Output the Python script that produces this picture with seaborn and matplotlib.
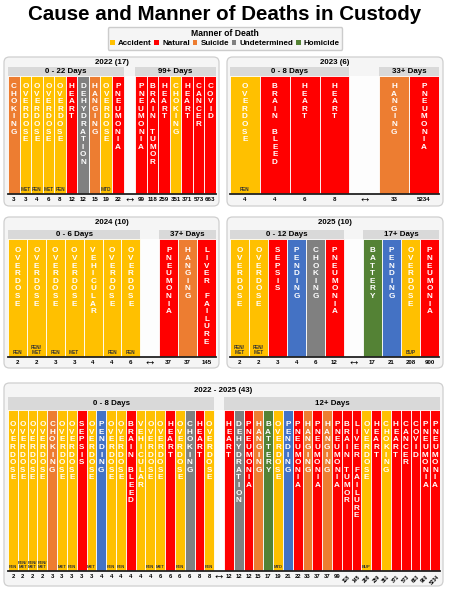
import pandas as pd
import matplotlib
matplotlib.use('Agg')
import matplotlib.pyplot as plt
import matplotlib.transforms as mtransforms
from matplotlib.patches import FancyBboxPatch, Rectangle, Patch
from matplotlib.lines import Line2D
import seaborn as sns

sns.set_style('white')
plt.rcParams['font.family'] = ['Liberation Sans', 'DejaVu Sans']
plt.rcParams['text.color'] = 'black'
plt.rcParams['xtick.color'] = 'black'

# colours for manner of death
palette = {'Accident': '#FFC000', 'Natural': '#FF0000', 'Suicide': '#ED7D31',
           'Undetermined': '#808080', 'Homicide': '#548235', 'Pending': '#4472C4'}
legend_items = ['Accident', 'Natural', 'Suicide', 'Undetermined', 'Homicide']

# 2022
y22_days = [3, 3, 4, 6, 8, 12, 12, 15, 19, 22, 99, 118, 259, 351, 371, 573, 663]
y22_cause = ['CHOKING', 'OVERDOSE', 'OVERDOSE', 'OVERDOSE', 'OVERDOSE', 'HEART', 'DEHYDRATION',
             'HANGING', 'OVERDOSE', 'PNEUMONIA', 'PNEUMONIA', 'BRAIN TUMOR', 'HEART', 'CHOKING',
             'HEART', 'CANCER', 'COVID']
y22_manner = ['Suicide', 'Accident', 'Accident', 'Accident', 'Accident', 'Natural', 'Undetermined',
              'Suicide', 'Accident', 'Natural', 'Natural', 'Natural', 'Natural', 'Accident',
              'Natural', 'Natural', 'Natural']
y22_drug = ['', 'MET', 'FEN', 'MET', 'FEN', '', '', '', 'MTD', '', '', '', '', '', '', '', '']
y22_groups = ['0 - 22 Days', '99+ Days']

# 2023
y23_days = [4, 4, 6, 8, 33, 5234]
y23_cause = ['OVERDOSE', 'BRAIN BLEED', 'HEART', 'HEART', 'HANGING', 'PNEUMONIA']
y23_manner = ['Accident', 'Natural', 'Natural', 'Natural', 'Suicide', 'Natural']
y23_drug = ['FEN', '', '', '', '', '']
y23_groups = ['0 - 8 Days', '33+ Days']

# 2024
y24_days = [2, 2, 3, 3, 4, 4, 6, 37, 37, 145]
y24_cause = ['OVERDOSE', 'OVERDOSE', 'OVERDOSE', 'OVERDOSE', 'VEHICULAR', 'OVERDOSE', 'OVERDOSE',
             'PNEUMONIA', 'HANGING', 'LIVER FAILURE']
y24_manner = ['Accident', 'Accident', 'Accident', 'Accident', 'Accident', 'Accident', 'Accident',
              'Natural', 'Suicide', 'Natural']
y24_drug = ['FEN', 'FEN/\nMET', 'FEN', 'MET', '', 'FEN', 'FEN', '', '', '']
y24_groups = ['0 - 6 Days', '37+ Days']

# 2025
y25_days = [2, 2, 3, 4, 6, 12, 17, 21, 208, 900]
y25_cause = ['OVERDOSE', 'OVERDOSE', 'SEPSIS', 'PENDING', 'CHOKING', 'PNEUMONIA', 'BATTERY',
             'PENDING', 'OVERDOSE', 'PNEUMONIA']
y25_manner = ['Accident', 'Accident', 'Natural', 'Pending', 'Undetermined', 'Natural', 'Homicide',
              'Pending', 'Accident', 'Natural']
y25_drug = ['FEN/\nMET', 'FEN/\nMET', '', '', '', '', '', '', 'BUP', '']
y25_groups = ['0 - 12 Days', '17+ Days']

# 2022 - 2025
all_days = [2, 2, 2, 2, 3, 3, 3, 3, 3, 4, 4, 4, 4, 4, 4, 6, 6, 6, 6, 8, 8,
            12, 12, 12, 15, 17, 19, 21, 22, 33, 37, 37, 99, 118, 145, 208, 259, 351, 371, 573,
            663, 900, 5234]
all_cause = ['OVERDOSE', 'OVERDOSE', 'OVERDOSE', 'OVERDOSE', 'CHOKING', 'OVERDOSE', 'OVERDOSE',
             'SEPSIS', 'OVERDOSE', 'PENDING', 'OVERDOSE', 'OVERDOSE', 'BRAIN BLEED', 'VEHICULAR',
             'OVERDOSE', 'OVERDOSE', 'HEART', 'OVERDOSE', 'CHOKING', 'HEART', 'OVERDOSE',
             'HEART', 'DEHYDRATION', 'PNEUMONIA', 'HANGING', 'BATTERY', 'OVERDOSE', 'PENDING',
             'PNEUMONIA', 'HANGING', 'PNEUMONIA', 'HANGING', 'PNEUMONIA', 'BRAIN TUMOR',
             'LIVER FAILURE', 'OVERDOSE', 'HEART', 'CHOKING', 'HEART', 'CANCER', 'COVID',
             'PNEUMONIA', 'PNEUMONIA']
all_manner = ['Accident', 'Accident', 'Accident', 'Accident', 'Suicide', 'Accident', 'Accident',
              'Natural', 'Accident', 'Pending', 'Accident', 'Accident', 'Natural', 'Accident',
              'Accident', 'Accident', 'Natural', 'Accident', 'Undetermined', 'Natural', 'Accident',
              'Natural', 'Undetermined', 'Natural', 'Suicide', 'Homicide', 'Accident', 'Pending',
              'Natural', 'Suicide', 'Natural', 'Suicide', 'Natural', 'Natural', 'Natural',
              'Accident', 'Natural', 'Accident', 'Natural', 'Natural', 'Natural', 'Natural',
              'Natural']
all_drug = ['FEN', 'FEN/\nMET', 'FEN/\nMET', 'FEN/\nMET', '', 'MET', 'FEN', '', 'MET', '', 'FEN',
            'FEN', '', '', 'FEN', 'MET', '', 'FEN', '', '', 'FEN',
            '', '', '', '', '', 'MTD', '', '', '', '', '', '', '', '', 'BUP', '', '', '', '', '',
            '', '']
all_groups = ['0 - 8 Days', '12+ Days']

W, H = 450, 600
fig = plt.figure(figsize=(W / 100, H / 100), dpi=100)


def fx(x):
    return x / W


def fy(y):
    return 1 - y / H


def draw_panel(box, title, title_y, bars, head_top, days, cause, manner, drug, groups, split,
               tick_fs, drug_fs, word_off, rotate=False):
    bx0, by0, bx1, by1 = box
    fig.patches.append(FancyBboxPatch((fx(bx0), fy(by1)), fx(bx1) - fx(bx0), fy(by0) - fy(by1),
                                      boxstyle='round,pad=0,rounding_size=0.012',
                                      mutation_aspect=W / H,
                                      transform=fig.transFigure, facecolor='#f5f5f5',
                                      edgecolor='#cfcfcf', linewidth=0.9, zorder=-5))
    fig.text(fx((bx0 + bx1) / 2), fy(title_y), title, ha='center', va='center',
             fontsize=5.7, fontweight='bold')

    x0, y0, x1, y1 = bars
    ax = fig.add_axes([fx(x0), fy(y1), fx(x1) - fx(x0), fy(y0) - fy(y1)])
    n = len(days) + 1
    slots = [i if i < split else i + 1 for i in range(len(days))]
    df = pd.DataFrame({'slot': [str(s) for s in slots], 'deaths': [1] * len(days),
                       'manner': manner})
    sns.barplot(data=df, x='slot', y='deaths', hue='manner', palette=palette,
                order=[str(i) for i in range(n)], dodge=False, saturation=1, width=1,
                edgecolor='white', linewidth=0.6, legend=False, ax=ax)
    ax.set_xlim(-0.5, n - 0.5)
    ax.set_ylim(0, 1)
    ax.set_facecolor('#fdfdfd')
    for s in ['top', 'left', 'right']:
        ax.spines[s].set_visible(False)
    ax.spines['bottom'].set_linewidth(1.3)
    ax.spines['bottom'].set_color('#222222')
    ax.set_xlabel('')
    ax.set_ylabel('')
    ax.set_yticks([])

    labels = [str(d) for d in days[:split]] + [''] + [str(d) for d in days[split:]]
    ax.set_xticks(range(n))
    ax.set_xticklabels(labels)
    ax.tick_params(axis='x', length=0, pad=2.2, labelsize=tick_fs)
    for t in ax.get_xticklabels():
        t.set_fontweight('bold')
        if rotate and len(t.get_text()) >= 3:
            t.set_rotation(45)
            t.set_fontsize(tick_fs - 0.6)
    ax.annotate('\u2194', xy=(split, 0), xytext=(0, -4.4), textcoords='offset points',
                ha='center', va='center', fontsize=9, fontweight='bold',
                annotation_clip=False)

    # header bands
    trans = mtransforms.blended_transform_factory(ax.transData, ax.transAxes)
    hh = (y0 - head_top) / (y1 - y0)
    for g, (a, b) in zip(groups, [(0, split - 1), (split + 1, n - 1)]):
        ax.add_patch(Rectangle((a - 0.5, 1), b - a + 1, hh, transform=trans, clip_on=False,
                               facecolor='#d9d9d9', edgecolor='none'))
        ax.text((a + b) / 2, 1 + hh / 2, g, transform=trans, ha='center', va='center',
                fontsize=5.7, fontweight='bold')

    # vertical cause words and drug notes
    for s, c, d in zip(slots, cause, drug):
        ax.annotate('\n'.join(list(c)), xy=(s, 1), xytext=(0, -word_off),
                    textcoords='offset points', ha='center', va='top', fontsize=5.9,
                    fontweight='bold', color='white', linespacing=1.12)
        if d:
            ax.annotate(d, xy=(s, 0), xytext=(0, 1.5), textcoords='offset points',
                        ha='center', va='bottom', fontsize=drug_fs, fontweight='bold',
                        color='#333333', linespacing=0.95)
    return ax


draw_panel((4, 57, 219, 206), '2022 (17)', 62, (8, 76, 216, 194), 67,
           y22_days, y22_cause, y22_manner, y22_drug, y22_groups, 10, 4.4, 3.4, 5)
draw_panel((227, 57, 443, 206), '2023 (6)', 62, (230, 76, 439, 194), 67,
           y23_days, y23_cause, y23_manner, y23_drug, y23_groups, 4, 4.4, 3.4, 5)
draw_panel((4, 217, 219, 368), '2024 (10)', 223, (8, 239, 216, 357), 230,
           y24_days, y24_cause, y24_manner, y24_drug, y24_groups, 7, 4.4, 3.4, 6)
draw_panel((227, 217, 443, 368), '2025 (10)', 223, (230, 239, 439, 357), 230,
           y25_days, y25_cause, y25_manner, y25_drug, y25_groups, 6, 4.4, 3.4, 6)
draw_panel((4, 383, 443, 586), '2022 - 2025 (43)', 390, (8, 410, 440, 571), 397,
           all_days, all_cause, all_manner, all_drug, all_groups, 21, 4.2, 3.0, 8, rotate=True)

fig.text(0.5, fy(14), 'Cause and Manner of Deaths in Custody', ha='center', va='center',
         fontsize=14.8, fontweight='bold')

handles = [Patch(facecolor=palette[m], edgecolor='none') for m in legend_items]
leg = fig.legend(handles, legend_items, loc='upper center', bbox_to_anchor=(0.5, fy(27)),
                 ncol=5, prop={'weight': 'bold', 'size': 5.8}, title='Manner of Death',
                 title_fontsize=6.2, frameon=True, fancybox=True, edgecolor='#cccccc',
                 facecolor='#f5f5f5', framealpha=1, handlelength=0.6, handleheight=0.6,
                 handletextpad=0.4, columnspacing=0.3, borderpad=0.3, labelspacing=0.2,
                 borderaxespad=0)
leg.get_title().set_fontweight('bold')
fig.canvas.draw()
tb = leg.get_title().get_window_extent()
fig.add_artist(Line2D([tb.x0 / W, tb.x1 / W], [(tb.y0 + 0.3) / H] * 2,
                      transform=fig.transFigure, color='black', linewidth=0.6))

fig.savefig('out.png', dpi=100)
